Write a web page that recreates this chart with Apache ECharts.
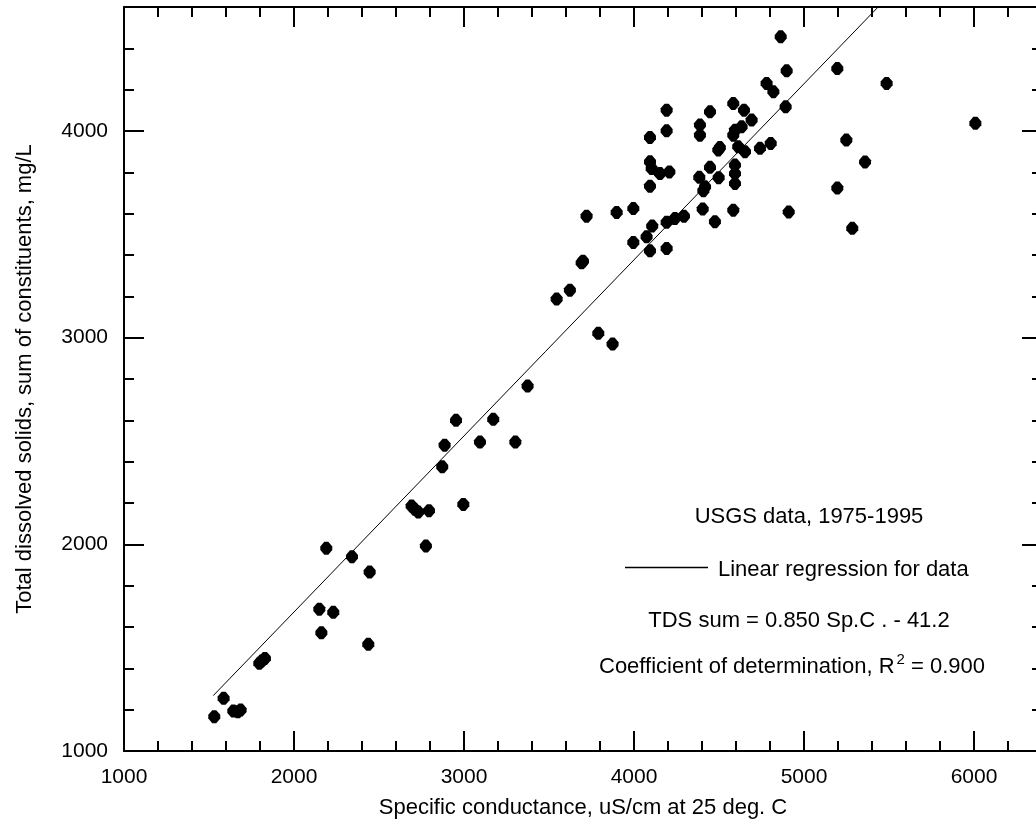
<!DOCTYPE html>
<html>
<head>
<meta charset="utf-8">
<script src="https://cdn.jsdelivr.net/npm/echarts@6/dist/echarts.min.js"></script>
<style>
html,body{margin:0;padding:0;background:#fff;overflow:hidden;width:1036px;height:827px;}
#chart{width:1050px;height:827px;}
</style>
</head>
<body>
<div id="chart"></div>
<script>
// Specific conductance (uS/cm at 25 deg C)
const conductance = [1531,1586,1643,1670,1686,1796,1810,1829,2190,2341,2445,2149,2231,2161,2437,2776,
  3374,2953,3172,2886,3094,3302,2872,2692,2710,2731,2794,2996,
  3545,3623,3692,3700,3721,3790,3874,3898,3996,3996,4074,4107,4094,4192,4192,4241,4294,4404,4408,4476,4584,
  4192,4094,4192,4094,4104,4153,4208,4094,4447,4388,4388,4584,4647,4692,4594,4584,4633,4496,4505,4613,4653,
  4741,4804,4447,4384,4498,4418,4594,4594,4594,4780,4820,4863,4898,5196,5486,4892,6008,5249,5359,5196,4910,5284];
// Total dissolved solids, sum of constituents (mg/L)
const tds = [1166,1255,1193,1190,1198,1424,1435,1448,1981,1940,1866,1686,1671,1572,1516,1992,
  2766,2600,2605,2480,2495,2495,2375,2185,2170,2156,2163,2193,
  3187,3230,3362,3370,3588,3021,2969,3606,3625,3461,3488,3540,3420,3432,3558,3577,3588,3622,3711,3561,3617,
  4101,3969,4001,3851,3818,3794,3802,3733,4093,4029,3980,4133,4101,4053,4004,3980,4020,3908,3920,3924,3900,
  3916,3940,3824,3776,3774,3730,3835,3794,3746,4230,4190,4456,4291,4302,4230,4117,4037,3956,3850,3724,3608,3529];
// Regression line end points
const regX = [1525, 5436];
const regY = [1268, 4600];

const xTitle = 'Specific conductance, uS/cm at 25 deg. C';
const yTitle = 'Total dissolved solids, sum of constituents, mg/L';
const noteSource = 'USGS data, 1975-1995';
const noteLegend = 'Linear regression for data';
const noteEquation = 'TDS sum = 0.850 Sp.C . - 41.2';
const noteR2 = ['Coefficient of determination, R', '2', ' = 0.900'];

const FONT = '"Liberation Sans", Arial, sans-serif';
const points = conductance.map((c, i) => [c, tds[i]]);
const regLine = regX.map((x, i) => [x, regY[i]]);

const chart = echarts.init(document.getElementById('chart'), null, {renderer: 'canvas'});

function axisBase(pos, interval, len, showLabel, showLine, isX) {
  return {
    type: 'value',
    position: pos,
    min: 1000,
    max: isX ? 6400 : 4600,
    interval: interval,
    splitLine: {show: false},
    axisLine: {show: showLine, onZero: false, lineStyle: {color: '#000', width: 2}},
    axisTick: {show: true, inside: true, length: len, lineStyle: {color: '#000', width: 2}},
    axisLabel: {
      show: showLabel, margin: 16, color: '#000', fontSize: 21, fontFamily: FONT,
      formatter: v => (v % 1000 === 0 && v <= 6000) ? String(v) : ''
    }
  };
}

const xMajorBottom = Object.assign(axisBase('bottom', 1000, 20, true, true, true), {
  name: xTitle, nameLocation: 'middle', nameGap: 46,
  nameTextStyle: {color: '#000', fontSize: 22, fontFamily: FONT}
});
const yMajorLeft = Object.assign(axisBase('left', 1000, 20, true, true, false), {
  name: yTitle, nameLocation: 'middle', nameGap: 88,
  nameTextStyle: {color: '#000', fontSize: 22, fontFamily: FONT}
});

const noteFont = '22px ' + FONT;

const option = {
  backgroundColor: '#fff',
  animation: false,
  grid: {left: 124, width: 918, top: 7, height: 744, containLabel: false},
  xAxis: [
    xMajorBottom,
    axisBase('bottom', 200, 10, false, false, true),
    axisBase('top', 1000, 20, false, true, true),
    axisBase('top', 200, 10, false, false, true)
  ],
  yAxis: [
    yMajorLeft,
    axisBase('left', 200, 10, false, false, false),
    axisBase('right', 1000, 20, false, true, false),
    axisBase('right', 200, 10, false, false, false)
  ],
  series: [
    {
      type: 'scatter', xAxisIndex: 0, yAxisIndex: 0,
      data: points,
      symbol: 'path://M4,0 L8,0 L12,5 L12,9 L8,14 L4,14 L0,9 L0,5 Z',
      symbolSize: [12, 13],
      itemStyle: {color: '#000', opacity: 1}
    },
    {
      type: 'line', xAxisIndex: 0, yAxisIndex: 0,
      data: regLine, symbol: 'none',
      lineStyle: {color: '#000', width: 1}
    }
  ],
  graphic: [
    {type: 'text', x: 809, y: 517, style: {text: noteSource, fill: '#000', font: noteFont, textAlign: 'center', textVerticalAlign: 'middle'}},
    {type: 'line', shape: {x1: 625, y1: 567.5, x2: 708, y2: 567.5}, style: {stroke: '#000', lineWidth: 1.5}},
    {type: 'text', x: 718, y: 570, style: {text: noteLegend, fill: '#000', font: noteFont, textAlign: 'left', textVerticalAlign: 'middle'}},
    {type: 'text', x: 799, y: 621, style: {text: noteEquation, fill: '#000', font: noteFont, textAlign: 'center', textVerticalAlign: 'middle'}},
    {type: 'text', x: 792, y: 667, style: {
      text: '{a|' + noteR2[0] + '}{s|' + noteR2[1] + '}{a|' + noteR2[2] + '}',
      textAlign: 'center', textVerticalAlign: 'middle',
      rich: {
        a: {fontSize: 22, fontFamily: FONT, fill: '#000', color: '#000'},
        s: {fontSize: 15, fontFamily: FONT, fill: '#000', color: '#000', padding: [0, 0, 14, 2]}
      }
    }}
  ]
};
chart.setOption(option);
</script>
</body>
</html>
